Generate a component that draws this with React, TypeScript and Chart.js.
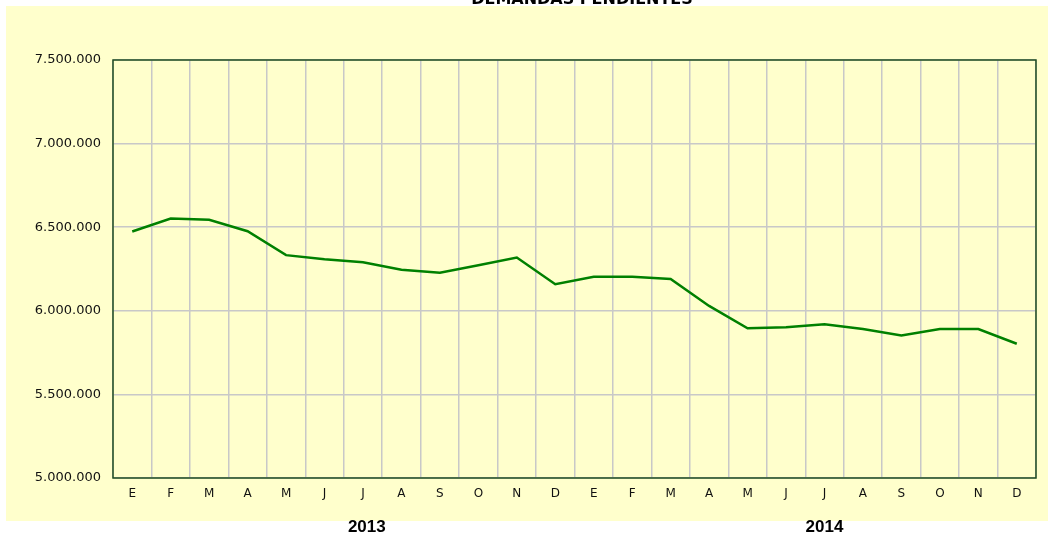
import React, { useEffect, useRef } from "react";
import { Chart, registerables } from "chart.js";

Chart.register(...registerables);

const months = ["E", "F", "M", "A", "M", "J", "J", "A", "S", "O", "N", "D", "E", "F", "M", "A", "M", "J", "J", "A", "S", "O", "N", "D"];
const pendientes = [
  6474000, 6552000, 6544000, 6476000, 6333000, 6308000, 6290000, 6245000, 6228000, 6272000, 6319000, 6159000,
  6203000, 6203000, 6190000, 6029000, 5895000, 5902000, 5920000, 5891000, 5853000, 5891000, 5891000, 5803000,
];
const yearLabels = ["2013", "2014"];
const yearAnchors = [6.1, 18];
const chartTitle = "DEMANDAS PENDIENTES";
const yTickMin = 5000000;
const yTickMax = 7500000;
const yTickStep = 500000;

const fmt = (v: number) => String(Math.round(v)).replace(/\B(?=(\d{3})+(?!\d))/g, ".");

const decorPlugin = {
  id: "decor",
  beforeDraw(chart: any) {
    const ctx = chart.ctx;
    ctx.save();
    ctx.fillStyle = "#ffffcc";
    ctx.fillRect(6, 6, chart.width - 6, 515);
    ctx.fillStyle = "#000";
    ctx.font = "bold 16px 'DejaVu Sans'";
    ctx.textAlign = "center";
    ctx.textBaseline = "alphabetic";
    ctx.fillText(chartTitle, 582, 3.5);
    ctx.restore();
  },
  afterDraw(chart: any) {
    const ctx = chart.ctx;
    const a = chart.chartArea;
    ctx.save();
    ctx.strokeStyle = "#1f4d1f";
    ctx.lineWidth = 1.5;
    ctx.strokeRect(a.left, a.top, a.right - a.left, a.bottom - a.top);
    const xs = chart.scales.x;
    ctx.fillStyle = "#000";
    ctx.font = "bold 17px 'Liberation Sans'";
    ctx.textAlign = "center";
    ctx.textBaseline = "middle";
    yearLabels.forEach((t, i) => {
      ctx.fillText(t, xs.getPixelForValue(yearAnchors[i]), 527);
    });
    ctx.restore();
  },
};

export default function App() {
  const ref = useRef<HTMLCanvasElement>(null);
  useEffect(() => {
    if (!ref.current) return;
    const chart = new Chart(ref.current, {
      type: "line",
      data: {
        labels: months,
        datasets: [
          {
            data: pendientes,
            borderColor: "#008000",
            borderWidth: 2.5,
            pointRadius: 0,
            tension: 0,
            fill: false,
          },
        ],
      },
      options: {
        animation: false,
        responsive: true,
        maintainAspectRatio: false,
        layout: { padding: { left: 0, right: 12, top: 60, bottom: 0 } },
        plugins: { legend: { display: false }, tooltip: { enabled: false }, title: { display: false } },
        scales: {
          x: {
            offset: true,
            grid: { offset: true, color: "#c8c8c8", lineWidth: 1.5, drawTicks: false },
            border: { display: false },
            ticks: { color: "#111", font: { family: "'DejaVu Sans'", size: 12 }, padding: 9, autoSkip: false, maxRotation: 0 },
            afterFit: (s: any) => { s.height = 62; },
          },
          y: {
            min: yTickMin,
            max: yTickMax,
            grid: { color: "#c8c8c8", lineWidth: 1.5, drawTicks: false },
            border: { display: false },
            ticks: {
              stepSize: yTickStep,
              color: "#111",
              font: { family: "'DejaVu Sans'", size: 13 },
              padding: 12,
              callback: (v: any) => fmt(Number(v)),
            },
            afterFit: (s: any) => { s.width = 113; },
          },
        },
      },
      plugins: [decorPlugin],
    });
    return () => chart.destroy();
  }, []);
  return (
    <div style={{ position: "absolute", left: 0, top: 0, width: 1048, height: 540, background: "#fff" }}>
      <canvas ref={ref} />
    </div>
  );
}
